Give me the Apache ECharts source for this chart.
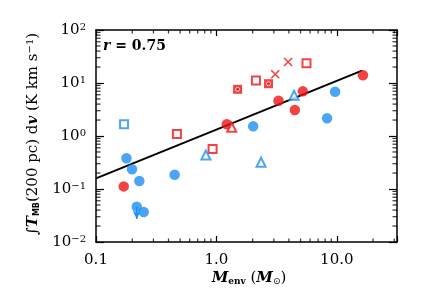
<!DOCTYPE html>
<html><head><meta charset="utf-8">
<script src="https://cdn.jsdelivr.net/npm/echarts@6/dist/echarts.min.js"></script>
<style>html,body{margin:0;padding:0;background:#fff}#c{width:425px;height:304px}</style>
</head><body><div id="c"></div>
<script>
// ---- data ----
const xTickValues = [0.1, 1, 10];
const xTickLabels = ['0.1', '1.0', '10.0'];
const yTickValues = [0.01, 0.1, 1, 10, 100];
const yTickExponents = ['\u22122', '\u22121', '0', '1', '2'];

const blueCircles = [[0.179,0.379],[0.199,0.236],[0.229,0.142],[0.45,0.186],[0.218,0.0464],[0.249,0.0368],[2.02,1.52],[8.3,2.16],[9.68,6.86]];
const redCircles = [[0.17,0.112],[1.22,1.66],[3.28,4.63],[4.48,3.1],[5.22,6.96],[16.5,14.0]];
const blueSquares = [[0.171,1.66]];
const redSquares = [[0.47,1.09],[0.93,0.569],[2.13,11.2],[5.6,23.5]];
const redDotSquares = [[1.5,7.6],[2.71,9.7]];
const redCrosses = [[3.08,14.6],[3.94,24.9]];
const redTriangles = [[1.34,1.46]];
const blueTriangles = [[0.818,0.438],[2.35,0.319],[4.42,5.86]];
const upperLimitArrow = [[0.218,0.0464],[0.218,0.0272]];
const fitLine = [[0.1,0.159],[16.2,17.1]];
const corrText = '0.75';

// ---- styles ----
const RED = '#ee1414';
const BLUE = '#1e8ff2';
const FONT = 'DejaVu Serif';
const XMIN = 0.1, XMAX = 31.6228, YMIN = 0.01, YMAX = 100;

const minorMult = [2,3,4,5,6,7,8,9];
function minorTicks(decades){ const out=[]; decades.forEach(d=>minorMult.forEach(m=>out.push(+(m*d).toPrecision(3)))); return out; }
const xMinor = minorTicks([0.1,1,10]).filter(v=>v<XMAX);
const yMinor = minorTicks([0.01,0.1,1,10]);

function findIdx(arr, v){ return arr.findIndex(t=>Math.abs(Math.log10(t)-Math.log10(v))<1e-6); }

function tickSeries(data, size, offset){
  return {type:'scatter', data, symbol:'rect', symbolSize:size, symbolOffset:offset, clip:false, silent:true,
    itemStyle:{color:'#000'}, z:6, emphasis:{disabled:true}};
}

const axisCommonX = {
  type:'log', logBase:10, min:XMIN, max:XMAX,
  axisLine:{show:true, lineStyle:{color:'#000', width:1.5}},
  axisTick:{show:true, inside:true, length:6, lineStyle:{color:'#000', width:1.2}},
  splitLine:{show:false}, minorTick:{show:false}, minorSplitLine:{show:false}
};
const axisCommonY = {
  type:'log', logBase:10, min:YMIN, max:YMAX,
  axisLine:{show:true, lineStyle:{color:'#000', width:1.5}},
  axisTick:{show:true, inside:true, length:8, lineStyle:{color:'#000', width:1.2}},
  splitLine:{show:false}, minorTick:{show:false}, minorSplitLine:{show:false}
};

const chart = echarts.init(document.getElementById('c'), null, {renderer:'canvas'});
chart.setOption({
  animation:false,
  backgroundColor:'#fff',
  grid:{left:96, right:28, top:30, bottom:62, containLabel:false},
  xAxis:[
    Object.assign({}, axisCommonX, {position:'bottom',
      axisLabel:{show:true, margin:11, color:'#000', fontFamily:FONT, fontSize:15,
        formatter:v=>{const i=findIdx(xTickValues,v); return i<0?'':xTickLabels[i];}}}),
    Object.assign({}, axisCommonX, {position:'top', axisLabel:{show:false}})
  ],
  yAxis:[
    Object.assign({}, axisCommonY, {position:'left',
      axisLabel:{show:true, margin:10, color:'#000', fontFamily:FONT, fontSize:15,
        formatter:v=>{const i=findIdx(yTickValues,v); return i<0?'':'10{sup|'+yTickExponents[i]+'}';},
        rich:{sup:{fontSize:10, fontFamily:FONT, color:'#000', verticalAlign:'top', padding:[0,0,6,0]}}}}),
    Object.assign({}, axisCommonY, {position:'right', axisLabel:{show:false}})
  ],
  graphic:[
    {type:'text', left:103, top:39, style:{text:'{i|r} = '+corrText, fill:'#000', fontFamily:FONT, fontSize:14, fontWeight:'bold',
      rich:{i:{fontStyle:'italic', fontFamily:FONT, fontSize:14, fontWeight:'bold'}}}},
    {type:'text', x:33, y:134, rotation:Math.PI/2, style:{
      text:'\u222B{it|T}{sub|MB}(200 pc) d{it|v} (K km s{sup|\u22121})',
      fill:'#000', fontFamily:FONT, fontSize:15, align:'center', verticalAlign:'middle',
      rich:{
        it:{fontStyle:'italic', fontWeight:'bold', fontFamily:FONT, fontSize:15},
        sub:{fontFamily:'DejaVu Sans', fontWeight:'bold', fontSize:8, verticalAlign:'bottom', padding:[6,0,0,0]},
        sup:{fontFamily:FONT, fontSize:10, verticalAlign:'top', padding:[0,0,6,0]}
      }}},
    {type:'text', x:249, y:278, style:{
      text:'{it|M}{sub|env} ({it|M}{sub2|\u2299})',
      fill:'#000', fontFamily:FONT, fontSize:15, align:'center', verticalAlign:'middle',
      rich:{
        it:{fontStyle:'italic', fontWeight:'bold', fontFamily:FONT, fontSize:15},
        sub:{fontFamily:FONT, fontWeight:'bold', fontSize:9, verticalAlign:'bottom', padding:[8,0,0,0]},
        sub2:{fontFamily:'DejaVu Sans', fontSize:9, verticalAlign:'bottom', padding:[6,0,0,0]}
      }}}
  ],
  series:[
    tickSeries(xMinor.map(v=>[v,YMIN]), [1.2,3.5], [0,-1.75]),
    tickSeries(xMinor.map(v=>[v,YMAX]), [1.2,3.5], [0,1.75]),
    tickSeries(yMinor.map(v=>[XMIN,v]), [4.5,1.2], [2.25,0]),
    tickSeries(yMinor.map(v=>[XMAX,v]), [4.5,1.2], [-2.25,0]),
    {type:'line', data:fitLine, symbol:'none', lineStyle:{color:'#000', width:2}, z:2},
    {type:'line', data:upperLimitArrow, symbol:(v,p)=>p.dataIndex===1?'arrow':'none', symbolSize:[6,8], symbolRotate:180,
      showSymbol:true, lineStyle:{color:BLUE, width:1.5}, itemStyle:{color:BLUE}, z:3},
    {type:'scatter', data:blueCircles, symbol:'circle', symbolSize:10.5, itemStyle:{color:BLUE}, z:4},
    {type:'scatter', data:redCircles, symbol:'circle', symbolSize:10.5, itemStyle:{color:RED}, z:4},
    {type:'scatter', data:blueSquares, symbol:'emptyRect', symbolSize:8, itemStyle:{color:BLUE, borderWidth:1.6}, z:4},
    {type:'scatter', data:redSquares, symbol:'emptyRect', symbolSize:8, itemStyle:{color:RED, borderWidth:1.6}, z:4},
    {type:'scatter', data:redDotSquares, symbol:'rect', symbolSize:9, itemStyle:{color:RED}, z:4},
    {type:'scatter', data:redDotSquares, symbol:'circle', symbolSize:4, itemStyle:{color:RED, borderColor:'#fff', borderWidth:1}, z:5},
    {type:'scatter', data:redCrosses, symbol:'path://M0,0L10,10M10,0L0,10', symbolSize:8,
      itemStyle:{color:'rgba(0,0,0,0)', borderColor:RED, borderWidth:1.6}, z:4},
    {type:'scatter', data:redTriangles, symbol:'emptyTriangle', symbolSize:9, itemStyle:{color:RED, borderWidth:1.6}, z:4},
    {type:'scatter', data:blueTriangles, symbol:'emptyTriangle', symbolSize:9, itemStyle:{color:BLUE, borderWidth:1.6}, z:4}
  ]
});
</script></body></html>
